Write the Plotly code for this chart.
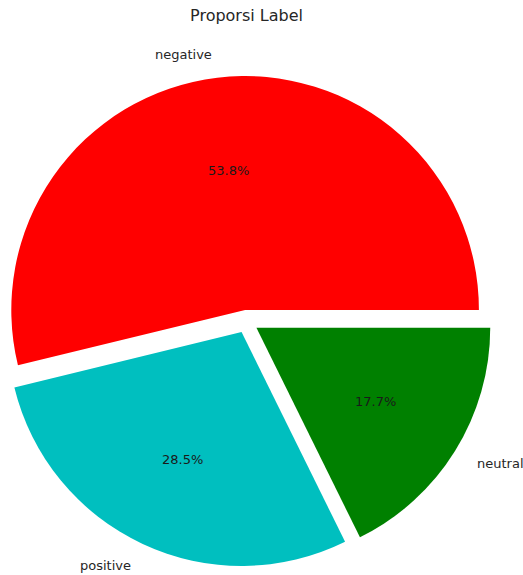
import math
import plotly.graph_objects as go

labels = ["negative", "positive", "neutral"]
values = [53.8, 28.5, 17.7]
colors = ["#FF0000", "#00BFBF", "#008000"]
explode = [0.05, 0.05, 0.05]
title_text = "Proporsi Label"

FONT = "DejaVu Sans"
TXT = "#262626"
half = 1 + max(explode)

# matplotlib draws counterclockwise from 3 o'clock; plotly 'clockwise' from 3 o'clock
# with the order reversed gives the same layout.
fig = go.Figure()
fig.add_trace(go.Pie(
    labels=labels[::-1], values=values[::-1], sort=False,
    direction="clockwise", rotation=90,
    pull=explode[::-1], textinfo="none", hoverinfo="label+percent",
    marker=dict(colors=colors[::-1], line=dict(width=0)),
    showlegend=False, domain=dict(x=[0, 1], y=[0, 1]),
))

# label / percentage positions derived from the slice angles (matplotlib-like)
total = sum(values)
ann = []
start = 0.0
for lab, v, ex in zip(labels, values, explode):
    span = v / total * 2 * math.pi
    mid = start + span / 2
    start += span
    c, s = math.cos(mid), math.sin(mid)
    lx, ly = (ex + 1.1) * c, (ex + 1.1) * s
    ann.append(dict(x=0.5 + lx / (2 * half), y=0.5 + ly / (2 * half),
                    xref="paper", yref="paper", text=lab, showarrow=False,
                    xanchor="left" if lx > 0 else "right", yanchor="middle",
                    font=dict(family=FONT, size=13, color=TXT)))
    px, py = (ex + 0.6) * c, (ex + 0.6) * s
    ann.append(dict(x=0.5 + px / (2 * half), y=0.5 + py / (2 * half),
                    xref="paper", yref="paper", text=f"{v / total * 100:.1f}%",
                    showarrow=False, xanchor="center", yanchor="middle",
                    font=dict(family=FONT, size=13, color="#1a1a1a")))

fig.update_layout(
    width=523, height=575,
    margin=dict(l=1, r=31, t=76, b=8),
    paper_bgcolor="white", plot_bgcolor="rgba(0,0,0,0)",
    title=dict(text=title_text, x=246.5 / 523, xanchor="center",
               y=1 - 15 / 575, yanchor="middle", yref="container",
               font=dict(family=FONT, size=16, color=TXT)),
    annotations=ann,
)

fig.write_html("out.html", config={"displayModeBar": False},
               post_script="document.body.style.margin='0';")
